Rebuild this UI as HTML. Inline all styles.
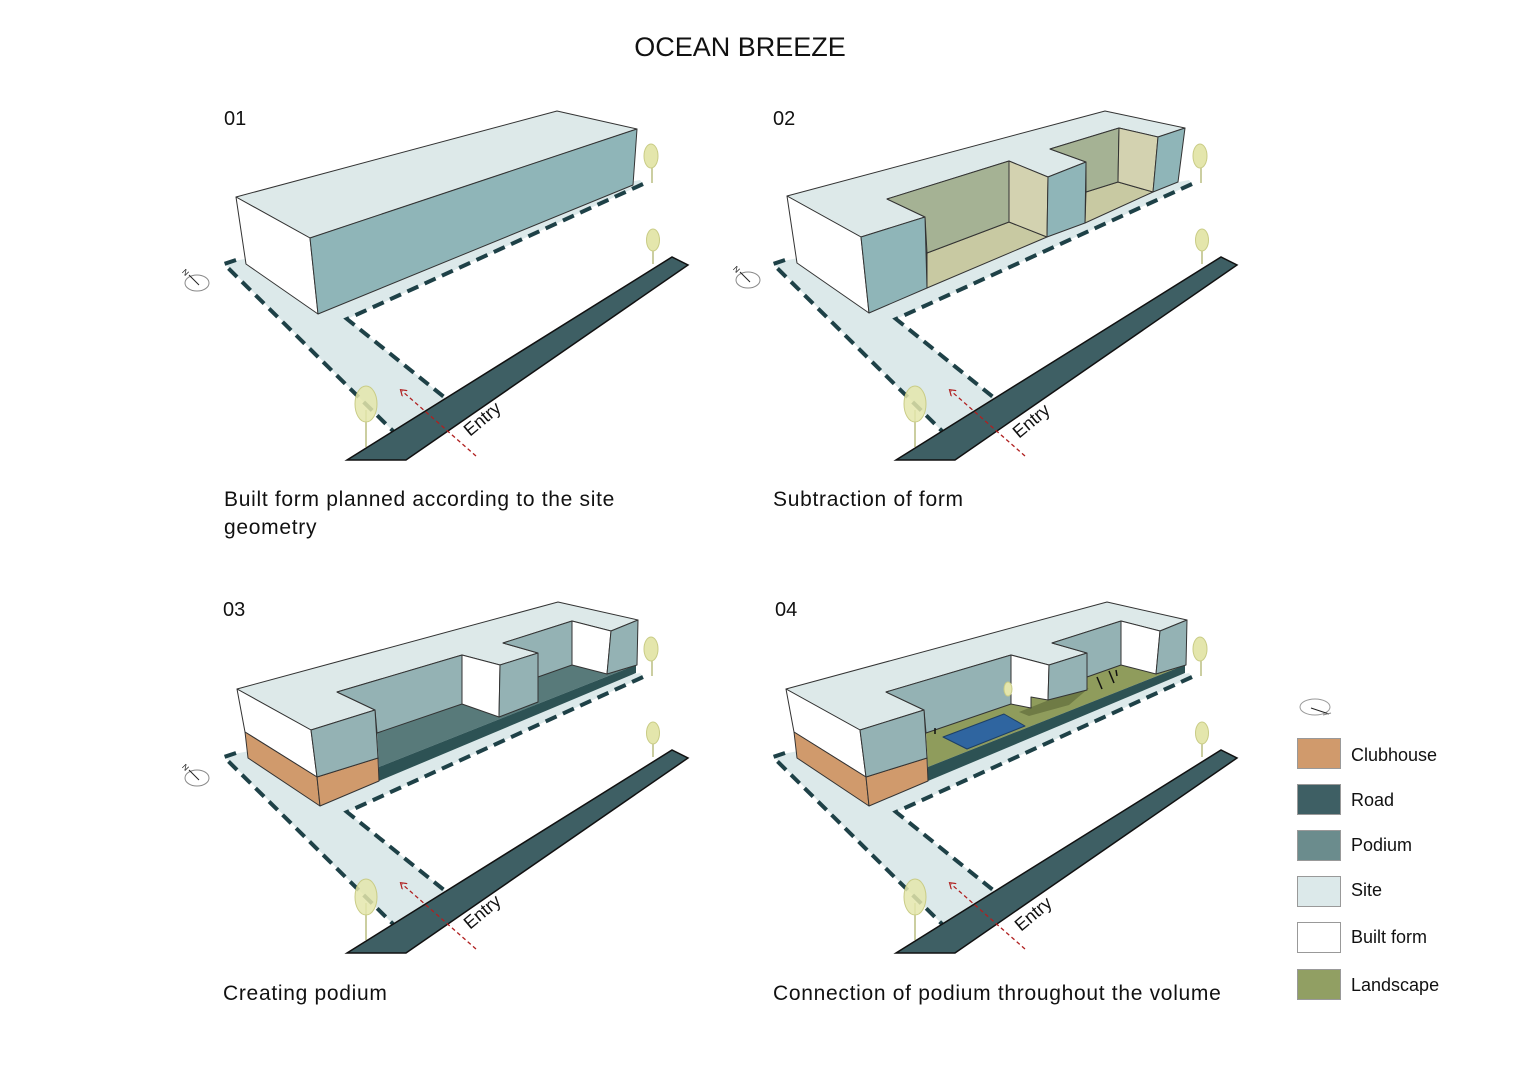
<!DOCTYPE html>
<html><head><meta charset="utf-8"><style>
html,body{margin:0;padding:0;background:#fff;}
svg{display:block;}
text{font-family:"Liberation Sans",sans-serif;fill:#111;}
.cap{font-size:21px;letter-spacing:0.7px;}
</style></head><body>
<svg width="1527" height="1080" viewBox="0 0 1527 1080" xmlns="http://www.w3.org/2000/svg">
<defs>
<marker id="ah" markerWidth="8" markerHeight="8" refX="4" refY="4" orient="auto" markerUnits="userSpaceOnUse">
<path d="M0,0 L6,4 L0,8" fill="none" stroke="#b02020" stroke-width="1.2"/>
</marker>
<g id="site">
<polygon points="224,263 640,180 643,184 347,319 449,401 405,432 394,432" fill="#dce9ea"/>
<polyline points="236,260 224,264 394,432 410,427" fill="none" stroke="#1e4147" stroke-width="4" stroke-dasharray="12,7"/>
<polyline points="643,184 347,319 449,401" fill="none" stroke="#1e4147" stroke-width="4" stroke-dasharray="12,7"/>
<polygon points="347,460 406,460 688,265 672,257" fill="#3e5f64" stroke="#111" stroke-width="1.5"/>
<line x1="476" y1="456" x2="402" y2="391" stroke="#b02020" stroke-width="1.3" stroke-dasharray="4,3" marker-end="url(#ah)"/>
<g stroke="#a8ad62" stroke-width="1.2">
<line x1="366" y1="410" x2="366" y2="447"/>
<line x1="652" y1="162" x2="652" y2="183"/>
<line x1="653" y1="244" x2="653" y2="264"/>
</g>
<ellipse cx="366" cy="404" rx="11" ry="18" fill="#e4e6ac" stroke="#c9cc86" fill-opacity="0.85"/>
<ellipse cx="651" cy="156" rx="7" ry="12" fill="#e4e6ac" stroke="#c9cc86"/>
<ellipse cx="653" cy="240" rx="6.5" ry="11" fill="#e4e6ac" stroke="#c9cc86"/>
</g>
</defs>

<text x="740" y="56" font-size="27" text-anchor="middle">OCEAN BREEZE</text>

<!-- 01 -->
<use href="#site"/>
<text x="224" y="125" font-size="20">01</text>
<g stroke="#333" stroke-width="1" stroke-linejoin="round">
<polygon points="236,197 557,111 637,129 310,238" fill="#dde9e9"/>
<polygon points="236,197 310,238 318,314 246,264" fill="#fff"/>
<polygon points="310,238 637,129 633,185 318,314" fill="#8fb5b8"/>
</g>
<g transform="translate(197,283)"><ellipse rx="12" ry="8" fill="none" stroke="#888"/><line x1="-8" y1="-8" x2="2" y2="2" stroke="#222"/><text x="-15" y="-8" font-size="8" transform="rotate(45 -12 -10)">N</text></g>
<text font-size="18" transform="translate(470,437) rotate(-40)">Entry</text>
<text x="224" y="506" class="cap">Built form planned according to the site</text>
<text x="224" y="534" class="cap">geometry</text>

<!-- 02 -->
<use href="#site" transform="translate(549,0)"/>
<text x="773" y="125" font-size="20">02</text>
<g stroke="#333" stroke-width="1" stroke-linejoin="round">
<polygon points="787,196 1105,111 1185,128 1158,137 1119,128 1050,149 1086,162 1048,177 1009,161 887,199 925,217 861,237" fill="#dde9e9"/>
<polygon points="787,196 861,237 869,313 797,263" fill="#fff"/>
<polygon points="927,253 1009,222 1047,237 927,288" fill="#c8c9a2"/>
<polygon points="887,199 1009,161 1009,222 927,253 925,217" fill="#a5b294"/>
<polygon points="1009,161 1048,177 1047,237 1009,222" fill="#d3d2b0"/>
<polygon points="1086,192 1118,182 1153,192 1085,223" fill="#c8c9a2"/>
<polygon points="1050,149 1119,128 1118,182 1086,192 1086,162" fill="#a5b294"/>
<polygon points="1119,128 1158,137 1153,192 1118,182" fill="#d3d2b0"/>
<polygon points="1048,177 1086,162 1085,223 1047,237" fill="#8fb5b8"/>
<polygon points="1158,137 1185,128 1178,182 1153,192" fill="#8fb5b8"/>
<polygon points="861,237 925,217 927,288 869,313" fill="#8fb5b8"/>
</g>
<g transform="translate(748,280)"><ellipse rx="12" ry="8" fill="none" stroke="#888"/><line x1="-8" y1="-8" x2="2" y2="2" stroke="#222"/><text x="-15" y="-8" font-size="8" transform="rotate(45 -12 -10)">N</text></g>
<text font-size="18" transform="translate(1019,439) rotate(-40)">Entry</text>
<text x="773" y="506" class="cap">Subtraction of form</text>

<!-- 03 -->
<use href="#site" transform="translate(0,493)"/>
<text x="223" y="616" font-size="20">03</text>
<g stroke="#333" stroke-width="1" stroke-linejoin="round">
<polygon points="377,733 636,640 636,665 379,767" fill="#587a7a" stroke="none"/>
<polygon points="379,767 636,665 636,673 379,781" fill="#2d5254" stroke="none"/>
<polygon points="237,689 558,602 638,620 611,631 572,621 503,643 538,653 500,665 462,655 337,692 375,710 311,730" fill="#dde9e9"/>
<polygon points="237,689 311,730 317,777 245,732" fill="#fff"/>
<polygon points="245,732 317,777 320,806 248,758" fill="#d09a6c"/>
<polygon points="317,777 378,758 379,781 320,806" fill="#d09a6c"/>
<polygon points="337,692 462,655 462,704 377,733 375,710" fill="#94b2b4"/>
<polygon points="462,655 500,665 499,717 462,704" fill="#fff"/>
<polygon points="500,665 538,653 538,702 499,717" fill="#94b2b4"/>
<polygon points="503,643 572,621 572,665 538,677 538,653" fill="#94b2b4"/>
<polygon points="572,621 611,631 607,674 572,665" fill="#fff"/>
<polygon points="611,631 638,620 637,665 607,674" fill="#94b2b4"/>
<polygon points="311,730 375,710 378,758 317,777" fill="#94b2b4"/>
</g>
<g transform="translate(197,778)"><ellipse rx="12" ry="8" fill="none" stroke="#888"/><line x1="-8" y1="-8" x2="2" y2="2" stroke="#222"/><text x="-15" y="-8" font-size="8" transform="rotate(45 -12 -10)">N</text></g>
<text font-size="18" transform="translate(470,930) rotate(-40)">Entry</text>
<text x="223" y="1000" class="cap">Creating  podium</text>

<!-- 04 -->
<use href="#site" transform="translate(549,493)"/>
<text x="775" y="616" font-size="20">04</text>
<g transform="translate(549,0)" stroke="#333" stroke-width="1" stroke-linejoin="round">
<polygon points="377,733 636,640 636,665 379,767" fill="#8f9c5c" stroke="none"/>
<polygon points="470,712 500,700 540,688 520,705 480,716" fill="#6f7b45" stroke="none"/>
<polygon points="379,767 636,665 636,673 379,781" fill="#2d5254" stroke="none"/>
<polygon points="394,737 455,714 476,726 418,749" fill="#2f65a0" stroke="#1d3f66"/>
<polygon points="237,689 558,602 638,620 611,631 572,621 503,643 538,653 500,665 462,655 337,692 375,710 311,730" fill="#dde9e9"/>
<polygon points="237,689 311,730 317,777 245,732" fill="#fff"/>
<polygon points="245,732 317,777 320,806 248,758" fill="#d09a6c"/>
<polygon points="317,777 378,758 379,781 320,806" fill="#d09a6c"/>
<polygon points="337,692 462,655 462,704 377,733 375,710" fill="#94b2b4"/>
<polygon points="462,655 500,665 499,700 482,697 482,708 462,704" fill="#fff"/>
<polygon points="500,665 538,653 538,690 499,700" fill="#94b2b4"/>
<polygon points="503,643 572,621 572,665 538,677 538,653" fill="#94b2b4"/>
<polygon points="572,621 611,631 607,674 572,665" fill="#fff"/>
<polygon points="611,631 638,620 637,665 607,674" fill="#94b2b4"/>
<polygon points="311,730 375,710 378,758 317,777" fill="#94b2b4"/>
<ellipse cx="459" cy="689" rx="4" ry="7" fill="#e4e6ac" stroke="#c9cc86"/>
<g stroke="#111" stroke-width="1.5"><line x1="548" y1="677" x2="553" y2="689"/><line x1="560" y1="671" x2="565" y2="683"/><line x1="567" y1="670" x2="568" y2="676"/><line x1="386" y1="728" x2="386" y2="734"/></g>
</g>
<text font-size="18" transform="translate(1021,932) rotate(-40)">Entry</text>
<text x="773" y="1000" class="cap">Connection of podium throughout the volume</text>

<!-- legend -->
<g transform="translate(1315,707)"><ellipse rx="15" ry="8" fill="none" stroke="#999"/><line x1="-4" y1="1" x2="14" y2="7" stroke="#222"/><line x1="8" y1="8" x2="16" y2="6" stroke="#888"/></g>
<g stroke="#999" stroke-width="1">
<rect x="1297.5" y="738.5" width="43" height="30" fill="#d09a6c"/>
<rect x="1297.5" y="784.5" width="43" height="30" fill="#3e5f64"/>
<rect x="1297.5" y="830.5" width="43" height="30" fill="#6b8c8d"/>
<rect x="1297.5" y="876.5" width="43" height="30" fill="#dce9ea"/>
<rect x="1297.5" y="922.5" width="43" height="30" fill="#fff"/>
<rect x="1297.5" y="969.5" width="43" height="30" fill="#919f63"/>
</g>
<g font-size="18">
<text x="1351" y="761">Clubhouse</text>
<text x="1351" y="806">Road</text>
<text x="1351" y="851">Podium</text>
<text x="1351" y="896">Site</text>
<text x="1351" y="943">Built form</text>
<text x="1351" y="991">Landscape</text>
</g>
</svg>
</body></html>
